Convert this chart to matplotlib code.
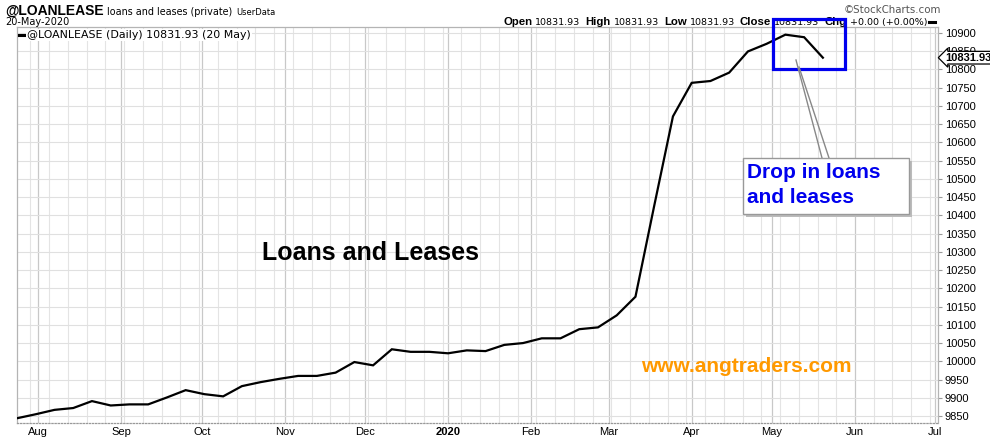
import matplotlib
matplotlib.use("Agg")
import matplotlib.pyplot as plt
import matplotlib.dates as mdates
import matplotlib.patches as mpatches
from matplotlib.lines import Line2D
import pandas as pd
import numpy as np

# ---------------- data ----------------
dates = pd.date_range("2019-07-24", "2020-05-20", freq="7D")
values = [9844, 9855, 9867, 9872, 9891, 9879, 9882, 9882, 9901, 9921,
          9910, 9904, 9932, 9943, 9952, 9960, 9960, 9969, 9998, 9989,
          10033, 10026, 10026, 10022, 10030, 10028, 10045, 10050, 10063, 10063,
          10088, 10093, 10126, 10177, 10426, 10671, 10763, 10768, 10791, 10849,
          10870, 10895, 10888, 10831.93]
y_ticks = list(range(9850, 10901, 50))
month_starts = pd.date_range("2019-08-01", "2020-07-01", freq="MS")
month_labels = [("2020" if d.month == 1 else d.strftime("%b")) for d in month_starts]
last_value = 10831.93

W, H = 990, 438
fig = plt.figure(figsize=(W / 100, H / 100), dpi=100)
fig.patch.set_facecolor("white")


def fx(x):
    return x / W


def fy(y):
    return 1 - y / H


ax = fig.add_axes([fx(17), fy(423), (938 - 17) / W, (423 - 27) / H])
ax.plot(dates, values, color="black", lw=1.6, solid_joinstyle="miter", zorder=3)
ax.set_xlim(pd.Timestamp("2019-07-24"), pd.Timestamp("2020-07-02"))
ax.set_ylim(9831, 10916)

# grids
ax.xaxis.set_major_locator(mdates.MonthLocator())
ax.xaxis.set_minor_locator(mdates.WeekdayLocator(byweekday=mdates.MO))
ax.set_xticks(month_starts)
ax.set_xticklabels(month_labels)
for lab in ax.get_xticklabels():
    lab.set_fontfamily("Liberation Sans")
    lab.set_fontsize(8)
    if lab.get_text() == "2020":
        lab.set_fontweight("bold")
ax.grid(which="major", axis="x", color="#c8c8c8", lw=0.9)
ax.grid(which="minor", axis="x", color="#e4e4e4", lw=0.8)
ax.set_yticks(y_ticks)
ax.grid(which="major", axis="y", color="#e0e0e0", lw=0.8)
ax.set_axisbelow(True)
ax.tick_params(axis="x", which="both", length=0, pad=3)
ax.yaxis.tick_right()
ax.tick_params(axis="y", length=3, color="#999999", pad=2, labelsize=8)
for lab in ax.get_yticklabels():
    lab.set_fontfamily("Liberation Sans")
ax.yaxis.set_major_formatter(matplotlib.ticker.FuncFormatter(lambda v, p: f"{int(v)}"))
for s in ["left", "right", "top"]:
    ax.spines[s].set_color("#b4b4b4")
    ax.spines[s].set_linewidth(0.9)
ax.spines["bottom"].set_color("#999999")
ax.spines["bottom"].set_linestyle((0, (1, 1.5)))
ax.spines["bottom"].set_linewidth(0.9)

# last value tag (covers the 10850 label, as in the original)
ax.annotate(f"{last_value:.2f}", xy=(1.0, last_value), xycoords=("axes fraction", "data"),
            xytext=(7, 0), textcoords="offset pixels", ha="left", va="center",
            fontsize=8, fontweight="bold", family="Liberation Sans",
            bbox=dict(boxstyle="larrow,pad=0.12", fc="white", ec="black", lw=0.9),
            annotation_clip=False, zorder=10)

# legend inside plot
fig.add_artist(Line2D([fx(19), fx(25)], [fy(35), fy(35)], color="black", lw=2.2))
fig.text(fx(27), fy(35), "@LOANLEASE (Daily) 10831.93 (20 May)", fontsize=7.9,
         family="DejaVu Sans", va="center", ha="left",
         bbox=dict(boxstyle="square,pad=0.12", fc="white", ec="none"))

renderer = fig.canvas.get_renderer()


def chain(parts, x0, ybase, align="left"):
    arts = []
    x = x0
    for txt, kw, gap in parts:
        t = fig.text(fx(x + gap), fy(ybase), txt, va="baseline", ha="left", **kw)
        ext = t.get_window_extent(renderer)
        x = ext.x1
        arts.append(t)
    if align == "right":
        shift = x0 - x
        for t in arts:
            px, py = t.get_position()
            t.set_position((px + shift / W, py))
    return arts


small = dict(family="DejaVu Sans", fontsize=6.8)
smallb = dict(family="Liberation Sans", fontsize=8.2, fontweight="bold")

# header left
chain([("@LOANLEASE", dict(family="Liberation Sans", fontsize=10, fontweight="bold"), 0),
       ("loans and leases (private)", dict(family="DejaVu Sans", fontsize=6.9), 3),
       ("UserData", dict(family="DejaVu Sans", fontsize=6.0), 4)], 5, 15)
fig.text(fx(5), fy(25), "20-May-2020", family="DejaVu Sans", fontsize=7.0, va="baseline")

# header right
chain([("Open", smallb, 0), ("10831.93", small, 3),
       ("High", smallb, 5), ("10831.93", small, 3),
       ("Low", smallb, 5), ("10831.93", small, 3),
       ("Close", smallb, 5), ("10831.93", small, 3),
       ("Chg", smallb, 5), ("+0.00 (+0.00%)", small, 3)], 927, 25, align="right")
fig.add_artist(Line2D([fx(929), fx(935)], [fy(22), fy(22)], color="black", lw=2.2))
fig.text(fx(941), fy(13), "\u00a9StockCharts.com", family="DejaVu Sans", fontsize=7.4,
         color="#555555", ha="right", va="baseline")

# annotations
fig.text(fx(370), fy(253), "Loans and Leases", family="Liberation Sans", fontsize=18,
         fontweight="bold", ha="center", va="center")
fig.text(fx(746), fy(366), "www.angtraders.com", family="Liberation Sans", fontsize=15,
         fontweight="bold", color="#ff9900", ha="center", va="center")

# blue highlight rectangle
fig.add_artist(mpatches.Rectangle((fx(773), fy(69)), fx(845) - fx(773), fy(19) - fy(69),
                                  transform=fig.transFigure, fill=False, ec="#0000ee",
                                  lw=2.3, zorder=20))
# pointer lines
fig.add_artist(Line2D([fx(796), fx(822)], [fy(60), fy(158)], color="#888888", lw=1.0, zorder=20))
fig.add_artist(Line2D([fx(799), fx(829)], [fy(67), fy(158)], color="#888888", lw=1.0, zorder=20))
# callout box with shadow
fig.add_artist(mpatches.Rectangle((fx(746), fy(217)), fx(912) - fx(746), fy(161) - fy(217),
                                  transform=fig.transFigure, fc="#bbbbbb", ec="none", zorder=21))
fig.add_artist(mpatches.Rectangle((fx(743), fy(214)), fx(909) - fx(743), fy(158) - fy(214),
                                  transform=fig.transFigure, fc="white", ec="#999999",
                                  lw=1.0, zorder=22))
fig.text(fx(747), fy(163), "Drop in loans\nand leases", family="Liberation Sans", fontsize=15,
         fontweight="bold", color="#0000ee", ha="left", va="top", linespacing=1.4, zorder=23)

fig.savefig("out.png", dpi=100, facecolor="white")
